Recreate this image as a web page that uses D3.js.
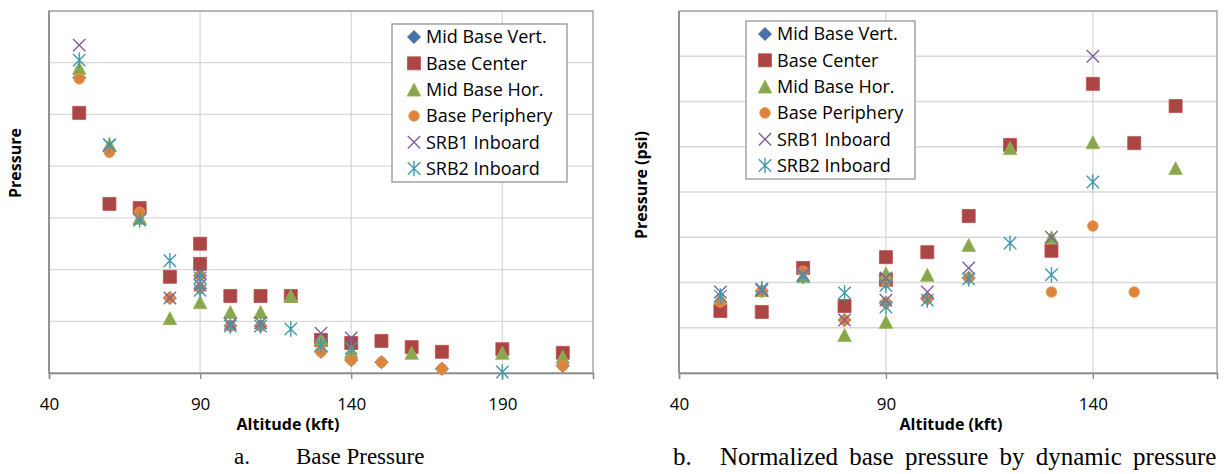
<!DOCTYPE html>
<html>
<head>
<meta charset="utf-8">
<script src="https://cdn.jsdelivr.net/npm/d3@7"></script>
<style>
  html, body { margin: 0; padding: 0; background: #fff; }
  svg { display: block; }
</style>
</head>
<body>
<svg id="chart" width="1225" height="474"></svg>
<script>
// ---------------- DATA ----------------
const seriesNames = ["Mid Base Vert.", "Base Center", "Mid Base Hor.", "Base Periphery", "SRB1 Inboard", "SRB2 Inboard"];

const xTicksA = [40, 90, 140, 190];
const xTicksB = [40, 90, 140];

// Chart a: Base Pressure  [altitude kft, pressure]
const midBaseVertA   = [[50,5.71],[60,4.29],[70,3.11],[80,1.45],[90,1.88],[90,1.64],[100,0.91],[110,0.91],[130,0.41],[140,0.25],[150,0.21],[170,0.08],[210,0.14]];
const baseCenterA    = [[50,5.03],[60,3.27],[70,3.19],[80,1.86],[90,2.50],[90,2.11],[100,1.49],[110,1.49],[120,1.49],[130,0.64],[140,0.58],[150,0.62],[160,0.50],[170,0.41],[190,0.46],[210,0.39]];
const midBaseHorA    = [[50,5.90],[60,4.41],[70,3.00],[80,1.06],[90,1.37],[100,1.18],[110,1.18],[120,1.49],[130,0.66],[140,0.41],[160,0.39],[190,0.39],[210,0.31]];
const basePeripheryA = [[50,5.69],[60,4.27],[70,3.11],[80,1.45],[90,1.88],[90,1.64],[100,0.91],[110,0.91],[130,0.41],[140,0.25],[150,0.21],[170,0.08],[210,0.14]];
const srb1A          = [[50,6.34],[60,4.41],[70,2.96],[80,1.45],[90,1.93],[90,1.70],[100,0.95],[110,0.97],[130,0.77],[140,0.68]];
const srb2A          = [[50,6.05],[60,4.41],[70,2.96],[80,2.17],[90,1.84],[90,1.60],[100,0.91],[110,0.91],[120,0.85],[130,0.54],[140,0.48],[190,0.02]];

// Chart b: Normalized base pressure by dynamic pressure
const midBaseVertB   = [[50,1.57],[60,1.81],[70,2.25],[80,1.17],[90,2.01],[90,1.55],[100,1.64],[110,2.10]];
const baseCenterB    = [[50,1.37],[60,1.35],[70,2.32],[80,1.48],[90,2.56],[90,2.06],[100,2.67],[110,3.47],[120,5.04],[130,2.70],[140,6.39],[150,5.08],[160,5.90]];
const midBaseHorB    = [[50,1.66],[60,1.83],[70,2.14],[80,0.84],[90,2.20],[90,1.13],[100,2.17],[110,2.83],[120,4.97],[130,3.00],[140,5.10],[160,4.53]];
const basePeripheryB = [[50,1.57],[60,1.81],[70,2.25],[80,1.17],[90,2.01],[90,1.55],[100,1.64],[110,2.10],[130,1.79],[140,3.25],[150,1.79]];
const srb1B          = [[50,1.79],[60,1.83],[70,2.17],[80,1.17],[90,2.10],[90,1.61],[100,1.79],[110,2.32],[130,3.00],[140,7.00]];
const srb2B          = [[50,1.70],[60,1.86],[70,2.14],[80,1.77],[90,1.94],[90,1.46],[100,1.61],[110,2.08],[120,2.87],[130,2.17],[140,4.22]];

// ---------------- STYLE ----------------
const markerTypes = ["diamond", "square", "triangle", "circle", "times", "star"];
const colors = ["#4572A7", "#AA4643", "#89A54E", "#DB843D", "#7E5E9E", "#4198AF"];
const font = "'Open Sans', 'Liberation Sans', sans-serif";

const svg = d3.select("#chart");

function markerPath(type) {
  const p = d3.path();
  if (type === "diamond") { const r = 6.5; p.moveTo(0,-r); p.lineTo(r,0); p.lineTo(0,r); p.lineTo(-r,0); p.closePath(); }
  else if (type === "square") { const r = 6.5; p.rect(-r,-r,2*r,2*r); }
  else if (type === "triangle") { const w = 6.8, h = 6.5; p.moveTo(0,-h); p.lineTo(w,h); p.lineTo(-w,h); p.closePath(); }
  else if (type === "circle") { p.arc(0,0,5.3,0,2*Math.PI); }
  else if (type === "times") { const r = 6.2; p.moveTo(-r,-r); p.lineTo(r,r); p.moveTo(-r,r); p.lineTo(r,-r); }
  else if (type === "star") { const r = 6.2; p.moveTo(-r,-r); p.lineTo(r,r); p.moveTo(-r,r); p.lineTo(r,-r); p.moveTo(0,-r*1.25); p.lineTo(0,r*1.25); }
  return p.toString();
}

function drawMarker(g, type, color, x, y) {
  const stroked = (type === "times" || type === "star");
  g.append("path")
    .attr("d", markerPath(type))
    .attr("transform", `translate(${x},${y})`)
    .attr("fill", stroked ? "none" : color)
    .attr("stroke", stroked ? color : (type === "diamond" ? "#3A6496" : d3.color(color).brighter(0.3)))
    .attr("stroke-width", stroked ? 1.4 : 0.8);
}

function drawChart(cfg) {
  const x = d3.scaleLinear().domain(cfg.xDomain).range([cfg.left, cfg.right]);
  const y = d3.scaleLinear().domain(cfg.yDomain).range([cfg.bottom, cfg.top]);
  const g = svg.append("g");

  // gridlines
  g.append("g").selectAll("line").data(d3.range(cfg.yDomain[0] + 1, cfg.yDomain[1] + 1))
    .join("line")
    .attr("x1", cfg.left).attr("x2", cfg.right)
    .attr("y1", d => y(d)).attr("y2", d => y(d))
    .attr("stroke", "#D9D9D9").attr("stroke-width", 1.3);
  g.append("g").selectAll("line").data(cfg.xTicks.slice(1))
    .join("line")
    .attr("x1", d => x(d)).attr("x2", d => x(d))
    .attr("y1", cfg.top).attr("y2", cfg.bottom)
    .attr("stroke", "#D9D9D9").attr("stroke-width", 1.3);

  // plot border
  g.append("rect")
    .attr("x", cfg.left).attr("y", cfg.top)
    .attr("width", cfg.right - cfg.left).attr("height", cfg.bottom - cfg.top)
    .attr("fill", "none").attr("stroke", "#A6A6A6").attr("stroke-width", 1.5);

  // x axis
  const xAxis = d3.axisBottom(x).tickValues(cfg.xTicks).tickSize(6).tickPadding(19).tickFormat(d3.format("d"));
  const ax = g.append("g").attr("transform", `translate(0,${cfg.bottom})`).call(xAxis);
  ax.select(".domain").attr("stroke", "#868686").attr("stroke-width", 1.5);
  ax.selectAll(".tick line").attr("stroke", "#868686").attr("stroke-width", 1.3);
  ax.selectAll(".tick text").attr("font-family", font).attr("font-size", 17).attr("fill", "#000");

  // y axis line
  g.append("line").attr("x1", cfg.left).attr("x2", cfg.left).attr("y1", cfg.top).attr("y2", cfg.bottom)
    .attr("stroke", "#868686").attr("stroke-width", 1.5);

  // data
  cfg.series.forEach((s, i) => {
    const sg = g.append("g");
    s.forEach(d => drawMarker(sg, markerTypes[i], colors[i], x(d[0]), y(d[1])));
  });

  // legend
  const lg = g.append("g");
  lg.append("rect")
    .attr("x", cfg.legend.x).attr("y", cfg.legend.y)
    .attr("width", cfg.legend.w).attr("height", cfg.legend.h)
    .attr("fill", "#fff").attr("stroke", "#8C8C8C").attr("stroke-width", 1.2);
  seriesNames.forEach((name, i) => {
    const cy = cfg.legend.y + 13 + i * 26.3;
    drawMarker(lg, markerTypes[i], colors[i], cfg.legend.mx, cy);
    lg.append("text")
      .attr("x", cfg.legend.tx).attr("y", cy)
      .attr("dy", "0.36em")
      .attr("font-family", font).attr("font-size", 18).attr("fill", "#000")
      .text(name);
  });

  // titles
  g.append("text")
    .attr("x", cfg.xTitleX).attr("y", 424).attr("dy", "0.36em")
    .attr("text-anchor", "middle").attr("font-family", font).attr("font-weight", "bold").attr("font-size", 16)
    .text("Altitude (kft)");
  g.append("text")
    .attr("transform", `translate(${cfg.yTitleX},${cfg.yTitleY}) rotate(-90)`)
    .attr("dy", "0.36em")
    .attr("text-anchor", "middle").attr("font-family", font).attr("font-weight", "bold").attr("font-size", 16)
    .text(cfg.yTitle);
  // caption
  const cap = g.append("text").attr("y", 456).attr("dy", "0.36em")
    .attr("font-family", "'Liberation Serif', 'Times New Roman', serif").attr("font-size", cfg.capSize);
  cap.append("tspan").attr("x", cfg.capX).text(cfg.capLabel);
  cap.append("tspan").attr("x", cfg.capX + cfg.capGap).attr("word-spacing", cfg.capWordSpacing).text(cfg.capText);
}

drawChart({
  left: 49, right: 593, top: 11, bottom: 373,
  xDomain: [40, 220], yDomain: [0, 7], xTicks: xTicksA,
  series: [midBaseVertA, baseCenterA, midBaseHorA, basePeripheryA, srb1A, srb2A],
  legend: { x: 392, y: 24, w: 175, h: 158, mx: 414, tx: 426 },
  xTitleX: 288, yTitle: "Pressure", yTitleX: 15, yTitleY: 163,
  capX: 234, capGap: 62, capWordSpacing: 0, capSize: 23, capLabel: "a.", capText: "Base Pressure"
});

drawChart({
  left: 679, right: 1217, top: 11, bottom: 373,
  xDomain: [40, 170], yDomain: [0, 8], xTicks: xTicksB,
  series: [midBaseVertB, baseCenterB, midBaseHorB, basePeripheryB, srb1B, srb2B],
  legend: { x: 746, y: 21, w: 169, h: 158, mx: 765, tx: 777 },
  xTitleX: 951, yTitle: "Pressure (psi)", yTitleX: 641, yTitleY: 185,
  capX: 673, capGap: 47, capWordSpacing: 5, capSize: 25, capLabel: "b.", capText: "Normalized base pressure by dynamic pressure"
});
</script>
</body>
</html>
